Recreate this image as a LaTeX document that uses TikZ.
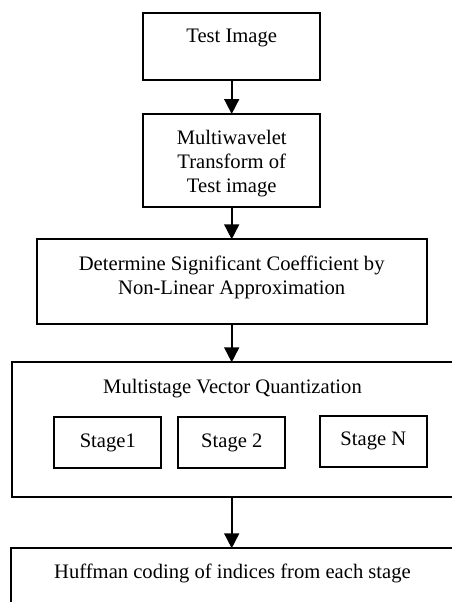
\documentclass[tikz,border=0pt]{standalone}
\usepackage{fontspec}
\setmainfont{Liberation Serif}
\usetikzlibrary{arrows.meta, positioning}

\begin{document}
\begin{tikzpicture}[x=1pt,y=-1pt,
    box/.style={draw,line width=1.9pt,outer sep=0pt,inner sep=0pt},
    lbl/.style={inner sep=0pt,outer sep=0pt,align=center,anchor=north,
                font=\fontsize{20.6}{24}\selectfont},
    flow/.style={line width=1.7pt,-{Triangle[length=15pt,width=15pt]}}]

  \useasboundingbox (0,0) rectangle (452,602);
  \clip (0,0) rectangle (452,602);

  % main boxes
  \node[box,minimum width=177.4pt,minimum height=67.3pt,anchor=north] (test) at (231.7,12.7) {};
  \node[box,minimum width=177.4pt,minimum height=92.7pt] (mwt) [below=34pt of test] {};
  \node[box,minimum width=390pt,minimum height=84.7pt] (det) [below=32.6pt of mwt] {};
  \node[box,minimum width=470pt,minimum height=135pt,anchor=north west] (msvq) at (11.7,362.3) {};
  \node[box,minimum width=470pt,minimum height=90pt,anchor=north west] (huff) at (10.7,548.3) {};

  % stages
  \node[box,minimum width=107pt,minimum height=51pt,anchor=north west,
        font=\fontsize{20.6}{24}\selectfont] (stage1) at (54.3,417.3) {Stage1};
  \node[box,minimum width=107pt,minimum height=51pt,
        font=\fontsize{20.6}{24}\selectfont] (stage2) [right=17pt of stage1] {Stage 2};
  \node[box,minimum width=106.7pt,minimum height=50.7pt,anchor=north west,
        font=\fontsize{20.6}{24}\selectfont] (stageN) at (320,416) {Stage N};

  % texts
  \node[lbl] (testtxt) [below=16.8pt of test.north] {Test Image};
  \node[lbl] (mwttxt) [below=16pt of mwt.north] {Multiwavelet\\Transform of\\Test image};
  \node[lbl,font=\fontsize{20.6}{24.5}\selectfont] (dettxt) [below=16.6pt of det.north]
    {Determine Significant Coefficient by\\Non-Linear Approximation};
  \node[lbl] (msvqtxt) at (232.5,379) {Multistage Vector Quantization};
  \node[lbl] (hufftxt) at (232.5,564) {Huffman coding of indices from each stage};

  % arrows
  \draw[flow] (test) -- (mwt);
  \draw[flow] (mwt) -- (det);
  \draw[flow] (det) -- (det.south |- msvq.north);
  \draw[flow] (det.south |- msvq.south) -- (det.south |- huff.north);
\end{tikzpicture}
\end{document}
